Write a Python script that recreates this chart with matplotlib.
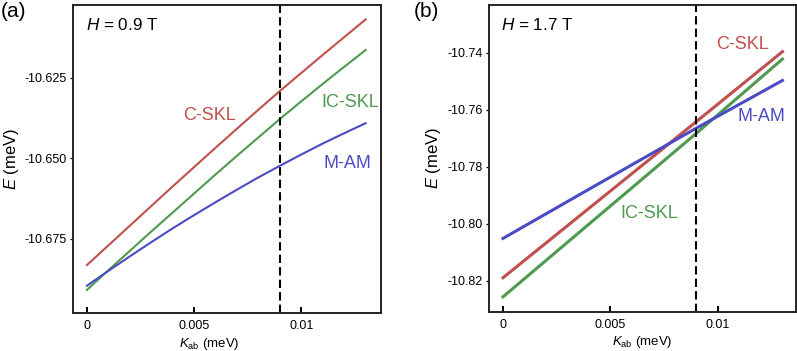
#!/usr/bin/env python3

import matplotlib
matplotlib.use('Agg')
import matplotlib.pyplot as plt

params = {
    'font.family': ['Liberation Sans', 'DejaVu Sans'],
    'mathtext.fontset': 'custom',
    'mathtext.rm': 'Liberation Sans',
    'mathtext.it': 'Liberation Sans:italic',
    'axes.unicode_minus': False,
    'axes.linewidth': 1.4,
    'axes.edgecolor': '#222222',
    'xtick.labelsize': 9,
    'ytick.labelsize': 9,
}
plt.rcParams.update(params)

# K_ab (meV)
k_a = [0.0, 0.001, 0.002, 0.003, 0.004, 0.005, 0.006, 0.007,
       0.008, 0.009, 0.010, 0.011, 0.012, 0.013]
# panel (a), H = 0.9 T, energies (meV)
csk_a = [-10.6831, -10.6770, -10.6709, -10.6648, -10.6587, -10.6527, -10.6467,
         -10.6408, -10.6349, -10.6291, -10.6235, -10.6179, -10.6124, -10.6069]
icsk_a = [-10.6908, -10.6847, -10.6787, -10.6727, -10.6668, -10.6609, -10.6550,
          -10.6492, -10.6435, -10.6378, -10.6323, -10.6269, -10.6216, -10.6164]
mam_a = [-10.6895, -10.6849, -10.6804, -10.6760, -10.6717, -10.6676, -10.6636,
         -10.6597, -10.6559, -10.6523, -10.6488, -10.6454, -10.6422, -10.6391]

# panel (b), H = 1.7 T
k_b = [0.0, 0.0045, 0.009, 0.013]
csk_b = [-10.8190, -10.7916, -10.7642, -10.7397]
icsk_b = [-10.8257, -10.7970, -10.7683, -10.7423]
mam_b = [-10.8052, -10.7858, -10.7665, -10.7498]

k_crit = 0.009

red = '#c0504d'
green = '#4f9a4f'
blue = '#4b4bc6'

fig = plt.figure(figsize=(7.97, 3.51), dpi=100)
ax1 = fig.add_axes([0.0916, 0.108, 0.386, 0.878])
ax2 = fig.add_axes([0.613, 0.112, 0.386, 0.874])


def style(ax):
    ax.tick_params(axis='x', direction='in', length=4.5, width=1.4, pad=5)
    ax.tick_params(axis='y', direction='out', length=2.2, width=0.9, pad=2)
    ax.set_xticks([0, 0.005, 0.01])
    ax.set_xticklabels(['0', '0.005', '0.01'])
    ax.set_xlabel(r'$K_{\rm ab}$ (meV)', fontsize=9.5, labelpad=2.5)
    ax.set_ylabel(r'$E$ (meV)', fontsize=12, labelpad=3)
    ax.axvline(k_crit, color='black', linestyle=(0, (4, 2)), linewidth=1.5)


# (a)
ax1.plot(k_a, csk_a, color=red, linewidth=1.5)
ax1.plot(k_a, icsk_a, color=green, linewidth=1.5)
ax1.plot(k_a, mam_a, color=blue, linewidth=1.5)
ax1.set_xlim(-0.00065, 0.0137)
ax1.set_ylim(-10.698, -10.6024)
ax1.set_yticks([-10.675, -10.65, -10.625])
ax1.set_yticklabels(['-10.675', '-10.650', '-10.625'])
style(ax1)
ax1.xaxis.label.set_x(0.443)
ax1.text(0.042, 0.935, r'$H$ = 0.9 T', transform=ax1.transAxes,
         fontsize=12.3, va='center', ha='left')
ax1.text(0.00573, -10.6368, 'C-SKL', color=red, fontsize=13,
         ha='center', va='center')
ax1.text(0.01226, -10.6328, 'IC-SKL', color=green, fontsize=13,
         ha='center', va='center')
ax1.text(0.01215, -10.6516, 'M-AM', color=blue, fontsize=13,
         ha='center', va='center')

# (b)
ax2.plot(k_b, csk_b, color=red, linewidth=2.2)
ax2.plot(k_b, icsk_b, color=green, linewidth=2.2)
ax2.plot(k_b, mam_b, color=blue, linewidth=2.2)
ax2.set_xlim(-0.00067, 0.01364)
ax2.set_ylim(-10.8309, -10.7233)
ax2.set_yticks([-10.82, -10.80, -10.78, -10.76, -10.74])
ax2.set_yticklabels(['-10.82', '-10.80', '-10.78', '-10.76', '-10.74'])
style(ax2)
ax2.text(0.042, 0.935, r'$H$ = 1.7 T', transform=ax2.transAxes,
         fontsize=12.3, va='center', ha='left')
ax2.text(0.01116, -10.7373, 'C-SKL', color=red, fontsize=13,
         ha='center', va='center')
ax2.text(0.01201, -10.7625, 'M-AM', color=blue, fontsize=13,
         ha='center', va='center')
ax2.text(0.00679, -10.7964, 'IC-SKL', color=green, fontsize=13,
         ha='center', va='center')

fig.text(0.001, 0.995, '(a)', fontsize=15, ha='left', va='top')
fig.text(0.519, 0.995, '(b)', fontsize=15, ha='left', va='top')

fig.savefig('out.png', dpi=100)
